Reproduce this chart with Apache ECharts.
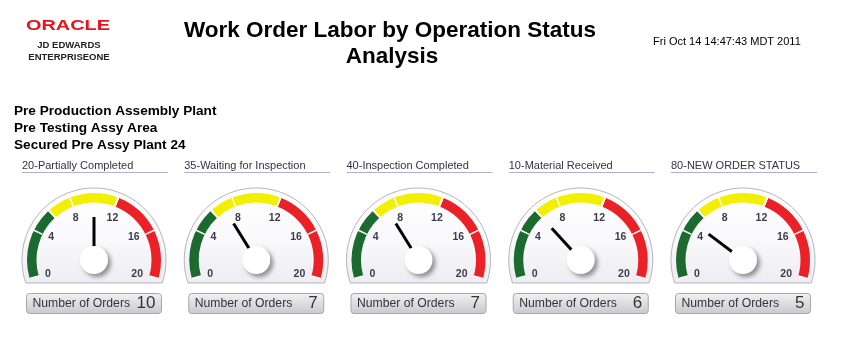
<!DOCTYPE html>
<html>
<head>
<meta charset="utf-8">
<title>Work Order Labor by Operation Status Analysis</title>
<script src="https://cdn.jsdelivr.net/npm/echarts@6/dist/echarts.min.js"></script>
<style>
  html, body { margin: 0; padding: 0; background: #fff; }
  #chart { width: 846px; height: 354px; }
</style>
</head>
<body>
<div id="chart"></div>
<script>
// data
var statuses = ['20-Partially Completed', '35-Waiting for Inspection', '40-Inspection Completed',
                '10-Material Received', '80-NEW ORDER STATUS'];
var orderCounts = [10, 7, 7, 6, 5];
var plantLines = ['Pre Production Assembly Plant', 'Pre Testing Assy Area', 'Secured Pre Assy Plant 24'];
var gaugeMin = 0, gaugeMax = 20, gaugeSplits = 5;
var bandLimits = [6, 12, 20];
var reportTitle = ['Work Order Labor by Operation Status', 'Analysis'];
var reportDate = 'Fri Oct 14 14:47:43 MDT 2011';
var valueLabel = 'Number of Orders';

// look
var FONT = '"Liberation Sans", Arial, Helvetica, sans-serif';
var bandColors = ['#1c6a30', '#f2f000', '#ea2127'];
var firstX = 94, stepX = 162.25, hubY = 260, R = 67, W = 9.5, RIM = 72;
var startAngle = 196, endAngle = -16;

function axisColors() {
  var stops = [], gap = 0.004, range = gaugeMax - gaugeMin;
  bandLimits.forEach(function (lim, i) {
    var f = (lim - gaugeMin) / range;
    if (i < bandLimits.length - 1) {
      stops.push([f - gap, bandColors[i]]);
      stops.push([f + gap, '#ffffff']);
    } else {
      stops.push([1, bandColors[i]]);
    }
  });
  return stops;
}

function facePoints(cx) {
  var pts = [], a0 = 198.6, a1 = -18.6, n = 60;
  for (var k = 0; k <= n; k++) {
    var a = (a0 + (a1 - a0) * k / n) * Math.PI / 180;
    pts.push([cx + RIM * Math.cos(a), hubY - RIM * Math.sin(a)]);
  }
  return pts;
}

function txt(x, y, text, font, fill, align) {
  return {
    type: 'text', x: x, y: y, silent: true,
    style: { text: text, font: font, fill: fill, align: align || 'left', verticalAlign: 'middle' }
  };
}

var graphics = [
  {
    type: 'text', x: 68, y: 26, scaleX: 1.42, originX: 0, silent: true,
    style: { text: 'ORACLE', font: 'bold 14px ' + FONT, fill: '#e8141c', align: 'center', verticalAlign: 'middle' }
  },
  txt(69, 45, 'JD EDWARDS', 'bold 9.5px ' + FONT, '#222', 'center'),
  txt(69, 57, 'ENTERPRISEONE', 'bold 9.5px ' + FONT, '#222', 'center'),
  txt(390, 31, reportTitle[0], 'bold 22.5px ' + FONT, '#000', 'center'),
  txt(392, 57, reportTitle[1], 'bold 22.5px ' + FONT, '#000', 'center'),
  txt(653, 42, reportDate, '11px ' + FONT, '#000', 'left')
];
plantLines.forEach(function (s, i) {
  graphics.push(txt(14, 111 + i * 17.2, s, 'bold 13.6px ' + FONT, '#000', 'left'));
});

var series = [];
statuses.forEach(function (name, i) {
  var cx = firstX + i * stepX;
  var tx = 22 + i * stepX;
  graphics.push(txt(tx, 165.5, name, '11px ' + FONT, '#333340', 'left'));
  graphics.push({
    type: 'line', silent: true,
    shape: { x1: tx, y1: 172.5, x2: tx + 146, y2: 172.5 },
    style: { stroke: '#b0b0cc', lineWidth: 1 }
  });
  graphics.push({
    type: 'polygon', silent: true,
    shape: { points: facePoints(cx) },
    style: {
      fill: new echarts.graphic.LinearGradient(0, 0, 0, 1, [
        { offset: 0, color: '#ffffff' },
        { offset: 0.55, color: '#f9f9fb' },
        { offset: 1, color: '#ededf2' }
      ]),
      stroke: '#b4b4bc', lineWidth: 1
    }
  });
  graphics.push({
    type: 'rect', silent: true,
    shape: { x: cx - 67.5, y: 293.5, width: 135, height: 20, r: 3 },
    style: {
      fill: new echarts.graphic.LinearGradient(0, 0, 0, 1, [
        { offset: 0, color: '#f2f2f2' },
        { offset: 1, color: '#c9c9cd' }
      ]),
      stroke: '#a6a6ae', lineWidth: 1
    }
  });

  series.push({
    type: 'gauge',
    center: [cx, hubY],
    radius: R,
    startAngle: startAngle,
    endAngle: endAngle,
    min: gaugeMin,
    max: gaugeMax,
    splitNumber: gaugeSplits,
    z: 3,
    axisLine: { lineStyle: { width: W, color: axisColors() } },
    splitLine: { show: true, length: W, distance: -W, lineStyle: { color: '#ffffff', width: 1.5 } },
    axisTick: { show: false },
    axisLabel: { distance: 16, color: '#3c3c4c', fontSize: 10.5, fontWeight: 'bold', fontFamily: FONT },
    pointer: { icon: 'rect', width: 3, length: 43, offsetCenter: [0, 0], itemStyle: { color: '#000' } },
    anchor: {
      show: true, showAbove: true, size: 28,
      itemStyle: {
        color: '#ffffff', borderWidth: 0,
        shadowBlur: 4, shadowOffsetX: 3, shadowOffsetY: 3, shadowColor: 'rgba(0,0,0,0.4)'
      }
    },
    title: { show: false },
    detail: {
      offsetCenter: [0, 43.5],
      valueAnimation: false,
      width: 123,
      height: 20,
      padding: 0,
      fontSize: 12.5,
      fontWeight: 'normal',
      lineHeight: 20,
      color: '#333',
      formatter: function (v) { return '{a|' + valueLabel + '}{b|' + v + '}'; },
      rich: {
        a: { fontSize: 12.2, fontWeight: 'normal', color: '#333340', width: 98, align: 'left', fontFamily: FONT },
        b: { fontSize: 17, fontWeight: 'normal', color: '#333340', width: 25, align: 'right', fontFamily: FONT }
      }
    },
    data: [{ value: orderCounts[i], name: name }]
  });
});

var chart = echarts.init(document.getElementById('chart'));
chart.setOption({
  backgroundColor: '#ffffff',
  animation: false,
  graphic: { elements: graphics },
  series: series
});
</script>
</body>
</html>
